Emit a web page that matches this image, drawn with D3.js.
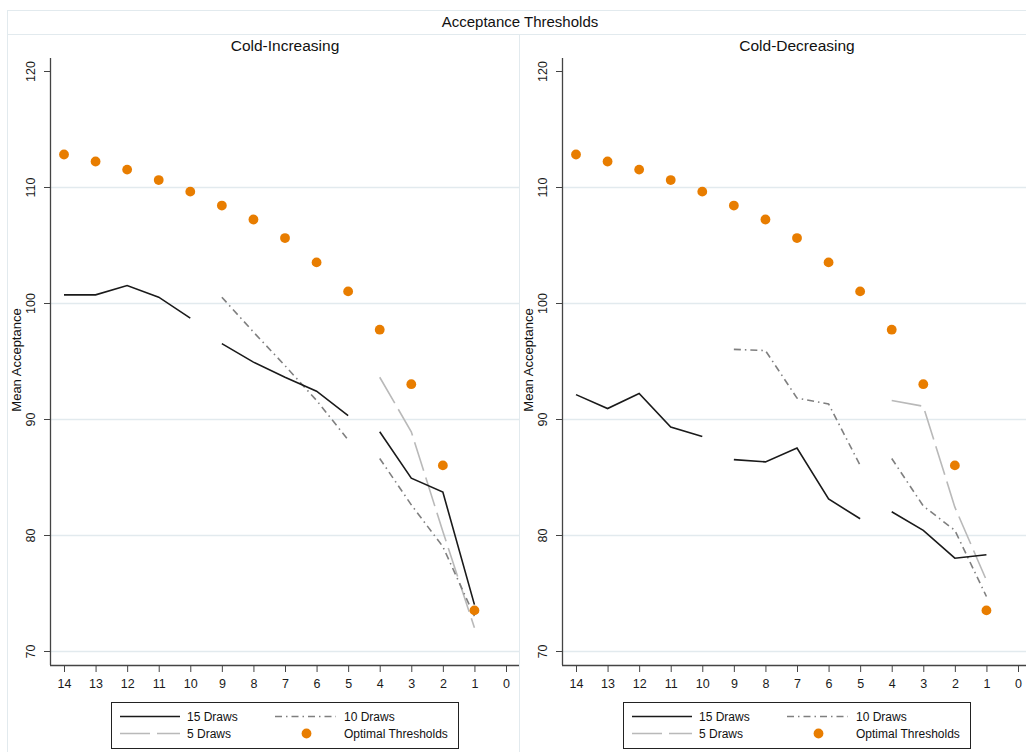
<!DOCTYPE html>
<html>
<head>
<meta charset="utf-8">
<script src="https://cdn.jsdelivr.net/npm/d3@7"></script>
<style>
  body { margin: 0; background: #fff; }
  svg { font-family: "Liberation Sans", Arial, sans-serif; }
  .tick text { fill: #1a1a1a; }
</style>
</head>
<body>
<svg width="1026" height="752"></svg>
<script>
// **** data ****
var stages = [14, 13, 12, 11, 10, 9, 8, 7, 6, 5, 4, 3, 2, 1];
// which connected block each stage belongs to (lines break between blocks)
var blocks = [1, 1, 1, 1, 1, 2, 2, 2, 2, 2, 3, 3, 3, 3];
var xTicks = [14, 13, 12, 11, 10, 9, 8, 7, 6, 5, 4, 3, 2, 1, 0];
var yTicks = [70, 80, 90, 100, 110, 120];
var gridValues = [70, 80, 90, 100, 110];

var optimal = [112.8, 112.2, 111.5, 110.6, 109.6, 108.4, 107.2, 105.6, 103.5, 101.0, 97.7, 93.0, 86.0, 73.5];

var incDraws15 = [100.7, 100.7, 101.5, 100.5, 98.7, 96.5, 94.9, 93.6, 92.4, 90.3, 88.9, 84.9, 83.7, 74.0];
var incDraws10 = [null, null, null, null, null, 100.5, 97.5, 94.6, 91.6, 88.2, 86.6, 82.6, 79.0, 73.0];
var incDraws5 = [null, null, null, null, null, null, null, null, null, null, 93.6, 88.9, 80.3, 72.0];

var decDraws15 = [92.1, 90.9, 92.2, 89.3, 88.5, 86.5, 86.3, 87.5, 83.1, 81.4, 82.0, 80.4, 78.0, 78.3];
var decDraws10 = [null, null, null, null, null, 96.0, 95.9, 91.8, 91.3, 86.0, 86.6, 82.5, 80.4, 74.7];
var decDraws5 = [null, null, null, null, null, null, null, null, null, null, 91.6, 91.1, 82.4, 76.1];

var panelTitles = ["Cold-Increasing", "Cold-Decreasing"];
var legendLabels = ["15 Draws", "10 Draws", "5 Draws", "Optimal Thresholds"];

// **** styles ****
var frameColor = "#e2eaee";
var orange = "#e87d00";
var styles = {
    d15: { stroke: "#1a1a1a", dash: null },
    d10: { stroke: "#7f7f7f", dash: "7,4,1.5,4" },
    d5: { stroke: "#b9b9b9", dash: "30,7" }
};

var svg = d3.select("svg");

// outer frame and header
svg.append("rect").attr("x", 7.5).attr("y", 10.5).attr("width", 1030).attr("height", 760)
    .style("fill", "none").style("stroke", frameColor);
svg.append("line").attr("x1", 7).attr("x2", 1026).attr("y1", 34.5).attr("y2", 34.5)
    .style("stroke", frameColor);
svg.append("line").attr("x1", 519.5).attr("x2", 519.5).attr("y1", 34).attr("y2", 752)
    .style("stroke", frameColor);
svg.append("text").attr("x", 520).attr("y", 27).attr("text-anchor", "middle")
    .style("font-size", "15px").style("fill", "#111").text("Acceptance Thresholds");

var yScale = d3.scaleLinear().domain([70, 120]).range([651, 71]);

function drawPanel(offset, title, d15, d10, d5) {
    var g = svg.append("g").attr("transform", "translate(" + offset + ",0)");
    var xScale = d3.scaleLinear().domain([14, 0]).range([64, 506]);

    g.append("text").attr("x", 285).attr("y", 50.5).attr("text-anchor", "middle")
        .style("font-size", "15.5px").style("fill", "#111").text(title);

    // grid
    g.selectAll(".grid").data(gridValues).enter().append("line").attr("class", "grid")
        .attr("x1", 51).attr("x2", 519)
        .attr("y1", function (d) { return Math.round(yScale(d)) + 0.5; })
        .attr("y2", function (d) { return Math.round(yScale(d)) + 0.5; })
        .style("stroke", frameColor).style("stroke-width", 1.5);

    // axes
    var yAxis = g.append("g").attr("transform", "translate(51,0)")
        .call(d3.axisLeft(yScale).tickValues(yTicks).tickSize(7).tickSizeOuter(0));
    yAxis.select(".domain").remove();
    yAxis.selectAll(".tick line").style("stroke", "#444");
    yAxis.selectAll(".tick text").attr("transform", "rotate(-90)").attr("x", 0).attr("y", -20)
        .attr("dy", "0.35em").style("text-anchor", "middle").style("font-size", "12.5px")
        .attr("dx", 0);
    g.append("line").attr("x1", 50.5).attr("x2", 50.5).attr("y1", 58).attr("y2", 665)
        .style("stroke", "#444").style("stroke-width", 1.3);

    var xAxis = g.append("g").attr("transform", "translate(0,665)")
        .call(d3.axisBottom(xScale).tickValues(xTicks).tickSize(7).tickPadding(7).tickFormat(d3.format("d")));
    xAxis.select(".domain").remove();
    xAxis.selectAll(".tick line").style("stroke", "#444");
    xAxis.selectAll(".tick text").style("font-size", "12.5px");
    g.append("line").attr("x1", 50).attr("x2", 519).attr("y1", 665.5).attr("y2", 665.5)
        .style("stroke", "#444").style("stroke-width", 1.3);

    g.append("text").attr("transform", "translate(21,360) rotate(-90)").attr("text-anchor", "middle")
        .style("font-size", "13px").style("fill", "#111").text("Mean Acceptance");

    // lines, broken between blocks
    var line = d3.line()
        .x(function (d) { return xScale(d.stage); })
        .y(function (d) { return yScale(d.value); });

    function drawSeries(values, st) {
        var pts = stages.map(function (s, i) { return { stage: s, value: values[i], block: blocks[i] }; })
            .filter(function (d) { return d.value !== null; });
        var groups = d3.groups(pts, function (d) { return d.block; });
        g.selectAll(null).data(groups).enter().append("path")
            .attr("d", function (d) { return line(d[1]); })
            .style("fill", "none").style("stroke", st.stroke).style("stroke-width", 1.6)
            .style("stroke-dasharray", st.dash);
    }
    drawSeries(d5, styles.d5);
    drawSeries(d10, styles.d10);
    drawSeries(d15, styles.d15);

    g.selectAll(".opt").data(stages).enter().append("circle").attr("class", "opt")
        .attr("cx", function (d) { return xScale(d); })
        .attr("cy", function (d, i) { return yScale(optimal[i]); })
        .attr("r", 4.9).style("fill", orange);

    // legend
    var lx = 111.5, ly = 702.5;
    g.append("rect").attr("x", lx).attr("y", ly).attr("width", 347).attr("height", 46)
        .style("fill", "#fff").style("stroke", "#222").style("stroke-width", 1);
    var rows = [716.5, 733.5];
    g.append("line").attr("x1", 120).attr("x2", 180).attr("y1", rows[0]).attr("y2", rows[0])
        .style("stroke", styles.d15.stroke).style("stroke-width", 1.6);
    g.append("line").attr("x1", 275).attr("x2", 336).attr("y1", rows[0]).attr("y2", rows[0])
        .style("stroke", styles.d10.stroke).style("stroke-width", 1.6).style("stroke-dasharray", "7,4,1.5,4");
    g.append("line").attr("x1", 120).attr("x2", 180).attr("y1", rows[1]).attr("y2", rows[1])
        .style("stroke", styles.d5.stroke).style("stroke-width", 1.6).style("stroke-dasharray", "30,7");
    g.append("circle").attr("cx", 306.5).attr("cy", rows[1]).attr("r", 4.9).style("fill", orange);
    var labelPos = [[187, rows[0]], [344, rows[0]], [187, rows[1]], [344, rows[1]]];
    g.selectAll(".leg").data(legendLabels).enter().append("text").attr("class", "leg")
        .attr("x", function (d, i) { return labelPos[i][0]; })
        .attr("y", function (d, i) { return labelPos[i][1]; })
        .attr("dy", "0.35em").style("font-size", "12px").style("fill", "#111")
        .text(function (d) { return d; });
}

drawPanel(0, panelTitles[0], incDraws15, incDraws10, incDraws5);
drawPanel(512, panelTitles[1], decDraws15, decDraws10, decDraws5);
</script>
</body>
</html>
